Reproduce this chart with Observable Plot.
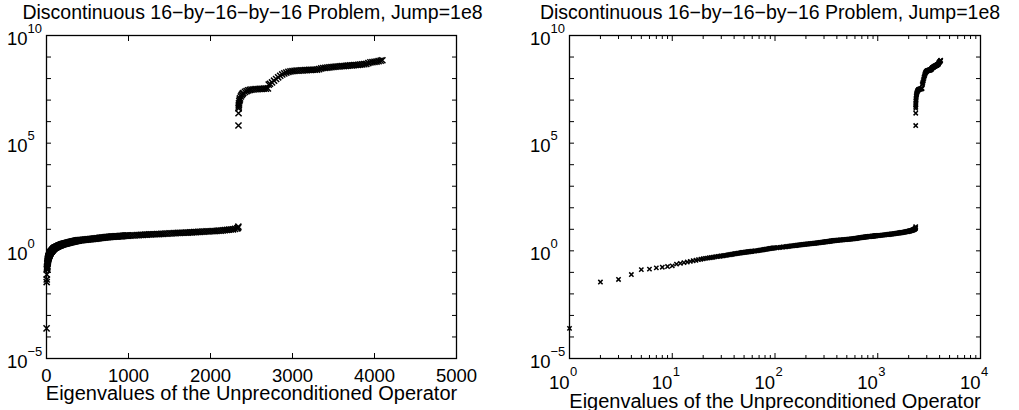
<!DOCTYPE html>
<html><head><meta charset="utf-8">
<script src="https://cdn.jsdelivr.net/npm/d3@7"></script>
<script src="https://cdn.jsdelivr.net/npm/@observablehq/plot@0.6"></script>
<style>
html,body{margin:0;padding:0;background:#fff;}
#wrap{position:relative;width:1019px;height:410px;overflow:hidden;background:#fff;}
#wrap svg{position:absolute;top:0;}
</style></head><body><div id="wrap"></div>
<script>
const titleText = "Discontinuous 16\u2212by\u221216\u2212by\u221216 Problem, Jump=1e8";
const xLabelText = "Eigenvalues of the Unpreconditioned Operator";

// sorted eigenvalues: [index, log10(eigenvalue)]
// low part (unit-coefficient region)
const lowPoints = [
[1,-3.6],[2,-1.45],[3,-1.33],[4,-1.1],[5,-0.87],[6,-0.85],[7,-0.79],[8,-0.76],[9,-0.73],[10,-0.7],
[11,-0.62],[12,-0.58],[13,-0.55],[14,-0.52],[15,-0.49],[16,-0.46],[17,-0.44],[18,-0.41],[19,-0.39],[20,-0.37],
[21,-0.35],[22,-0.34],[23,-0.32],[24,-0.31],[25,-0.3],[26,-0.28],[27,-0.27],[28,-0.26],[29,-0.25],[30,-0.24],
[31,-0.23],[32,-0.22],[33,-0.21],[34,-0.2],[35,-0.19],[36,-0.18],[37,-0.17],[38,-0.16],[39,-0.15],[40,-0.14],
[41,-0.135],[42,-0.13],[43,-0.12],[44,-0.11],[45,-0.105],[46,-0.1],[47,-0.09],[48,-0.08],[49,-0.075],[50,-0.07],
[51,-0.065],[52,-0.06],[53,-0.055],[54,-0.05],[55,-0.045],[56,-0.04],[57,-0.035],[58,-0.03],[59,-0.025],[60,-0.02],
[62,-0.01],[64,-0.005],[66,0],[68,0.01],[70,0.02],[72,0.03],[74,0.04],[76,0.05],[78,0.06],[80,0.07],
[82,0.075],[84,0.08],[86,0.09],[88,0.1],[90,0.11],[92,0.115],[94,0.12],[96,0.13],[98,0.135],[100,0.14],
[104,0.145],[108,0.15],[112,0.16],[116,0.17],[120,0.18],[124,0.185],[128,0.19],[132,0.2],[136,0.21],[140,0.22],
[144,0.225],[148,0.23],[152,0.24],[156,0.245],[160,0.25],[164,0.26],[168,0.265],[172,0.27],[176,0.275],[180,0.28],
[184,0.29],[188,0.295],[192,0.3],[196,0.305],[200,0.31],
[205,0.315],[210,0.32],[215,0.325],[220,0.33],[225,0.335],[230,0.34],[235,0.345],[240,0.35],[245,0.355],[250,0.36],
[255,0.365],[260,0.37],[265,0.375],[270,0.38],[275,0.385],[280,0.39],[285,0.395],[290,0.4],[295,0.405],[300,0.41],
[305,0.415],[310,0.42],[315,0.423],[320,0.426],[325,0.43],[330,0.435],[335,0.44],[340,0.445],[345,0.45],[350,0.455],
[355,0.46],[360,0.463],[365,0.466],[370,0.47],[375,0.474],[380,0.478],[385,0.482],[390,0.485],[395,0.488],[400,0.49],
[410,0.494],[420,0.498],[430,0.502],[440,0.506],[450,0.51],[460,0.514],[470,0.518],[480,0.522],[490,0.526],[500,0.53],
[510,0.534],[520,0.538],[530,0.542],[540,0.546],[550,0.55],[560,0.554],[570,0.558],[580,0.562],[590,0.566],[600,0.57],
[610,0.575],[620,0.58],[630,0.585],[640,0.59],[650,0.6],[660,0.604],[670,0.608],[680,0.612],[690,0.616],[700,0.62],
[710,0.624],[720,0.628],[730,0.632],[740,0.636],[750,0.64],[760,0.644],[770,0.648],[780,0.652],[790,0.656],[800,0.66],
[810,0.662],[820,0.664],[830,0.666],[840,0.668],[850,0.67],[860,0.673],[870,0.676],[880,0.678],[890,0.68],[900,0.682],
[910,0.685],[920,0.688],[930,0.692],[940,0.695],[950,0.7],[960,0.702],[970,0.704],[980,0.706],[990,0.708],[1000,0.71],
[1025,0.71],[1050,0.72],[1075,0.72],[1100,0.73],[1125,0.73],[1150,0.74],[1175,0.74],[1200,0.75],[1225,0.75],[1250,0.76],
[1275,0.76],[1300,0.77],[1325,0.77],[1350,0.78],[1375,0.78],[1400,0.79],[1425,0.79],[1450,0.8],[1475,0.8],[1500,0.81],
[1525,0.81],[1550,0.82],[1575,0.82],[1600,0.83],[1625,0.83],[1650,0.84],[1675,0.84],[1700,0.85],[1725,0.85],[1750,0.86],
[1775,0.86],[1800,0.87],[1825,0.87],[1850,0.88],[1875,0.88],[1900,0.89],[1925,0.89],[1950,0.9],[1975,0.9],[2000,0.91],
[2025,0.92],[2050,0.92],[2075,0.93],[2100,0.94],[2125,0.94],[2150,0.95],[2175,0.96],[2200,0.97],[2225,0.98],[2250,0.99],
[2275,1.0],[2300,1.02],[2325,1.04],[2335,1.07],[2340,1.12]
];
// high part (jump-coefficient region)
const highPoints = [
[2341,5.82],[2342,6.39],[2343,6.62],[2344,6.7],[2346,6.78],[2348,6.85],[2352,6.95],[2356,7.02],[2360,7.08],[2370,7.17],
[2380,7.24],[2390,7.29],[2400,7.33],[2420,7.38],[2440,7.42],[2460,7.45],[2480,7.47],[2500,7.49],[2525,7.5],[2550,7.51],
[2575,7.51],[2600,7.52],[2625,7.52],[2650,7.53],[2675,7.53],[2700,7.54],[2710,7.72],[2725,7.76],[2750,7.82],[2775,7.9],
[2800,7.98],[2825,8.06],[2850,8.13],[2875,8.19],[2900,8.24],[2925,8.28],[2950,8.31],[2975,8.33],[3000,8.35],[3025,8.36],
[3050,8.37],[3075,8.37],[3100,8.38],[3125,8.38],[3150,8.39],[3175,8.39],[3200,8.4],[3225,8.4],[3250,8.41],[3275,8.41],
[3300,8.42],[3325,8.44],[3350,8.47],[3375,8.49],[3400,8.5],[3425,8.51],[3450,8.52],[3475,8.53],[3500,8.54],[3525,8.55],
[3550,8.56],[3575,8.57],[3600,8.58],[3625,8.58],[3650,8.59],[3675,8.6],[3700,8.61],[3725,8.61],[3750,8.62],[3775,8.63],
[3800,8.64],[3825,8.65],[3850,8.66],[3875,8.67],[3900,8.68],[3925,8.72],[3950,8.75],[3975,8.76],[4000,8.78],[4025,8.79],
[4050,8.81],[4075,8.83],[4096,8.85]
];

const yTickExponents = [-5,-4,-3,-2,-1,0,1,2,3,4,5,6,7,8,9,10];
const yLabelExponents = [-5,0,5,10];
const xLinearTicks = [0,1000,2000,3000,4000,5000];
const xLogExponents = [0,1,2,3,4];
const xLogMantissas = [2,3,4,5,6,7,8,9];

const eig = lowPoints.concat(highPoints).map(([i, lg]) => ({i, v: 10**lg}));

const FONT = "'Liberation Sans', Arial, Helvetica, sans-serif";
const sup = e => String(e).replace("-", "\u2212");
const yDomain = [1e-5, 1e10];
const yTicks = yTickExponents.map(e => 10**e);
const yLabels = yLabelExponents.map(e => 10**e);

function commonMarks(r, sw, xMajor, xMinor, xlabDy, titleDx) {
  const m = [
    Plot.axisY({ticks: yTicks, anchor:"left", tickSize:5, dx:5, tickFormat:()=>"", label:null, strokeWidth:1}),
    Plot.axisY({ticks: yTicks, anchor:"right", tickSize:5, dx:-5, tickFormat:()=>"", label:null, strokeWidth:1}),
    Plot.axisX({ticks: xMajor, anchor:"bottom", tickSize:5, dy:-5, tickFormat:()=>"", label:null, strokeWidth:1}),
    Plot.axisX({ticks: xMajor, anchor:"top", tickSize:5, dy:5, tickFormat:()=>"", label:null, strokeWidth:1}),
  ];
  if (xMinor) {
    m.push(Plot.axisX({ticks: xMinor, anchor:"bottom", tickSize:3, dy:-3, tickFormat:()=>"", label:null, strokeWidth:1}));
    m.push(Plot.axisX({ticks: xMinor, anchor:"top", tickSize:3, dy:3, tickFormat:()=>"", label:null, strokeWidth:1}));
  }
  m.push(Plot.frame({stroke:"black", strokeWidth:1.3}));
  m.push(Plot.dot(eig, {x:"i", y:"v", symbol:"times", r, stroke:"black", strokeWidth:sw}));
  m.push(Plot.text(yLabels, {y: d=>d, frameAnchor:"left", text: ()=>"10", textAnchor:"end", lineAnchor:"bottom", dx:-19, dy:9, fontSize:18.5, fill:"black"}));
  m.push(Plot.text(yLabels, {y: d=>d, frameAnchor:"left", text: d=>sup(Math.round(Math.log10(d))), textAnchor:"start", lineAnchor:"bottom", dx:-19, dy:-3, fontSize:13, fill:"black"}));
  m.push(Plot.text([titleText], {frameAnchor:"top", text:d=>d, lineAnchor:"bottom", dx:titleDx, dy:-16.5, fontSize:19.5, fill:"black"}));
  m.push(Plot.text([xLabelText], {frameAnchor:"bottom", text:d=>d, lineAnchor:"bottom", dy:xlabDy, fontSize:20, fill:"black"}));
  return m;
}

const wrap = document.getElementById("wrap");

// left panel: linear index axis
const leftMarks = commonMarks(2.9, 1.5, xLinearTicks, null, 41.5, 1);
leftMarks.push(Plot.text(xLinearTicks, {x:d=>d, frameAnchor:"bottom", text:d=>String(d), lineAnchor:"bottom", dy:23.5, fontSize:18.5, fill:"black"}));
const left = Plot.plot({
  width: 509, height: 410,
  marginLeft: 46, marginRight: 53, marginTop: 35, marginBottom: 52,
  x: {type:"linear", domain:[0,5000]},
  y: {type:"log", domain: yDomain},
  style: {fontFamily: FONT, color:"black", background:"transparent", overflow:"visible"},
  marks: leftMarks
});
left.style.left = "0px";
wrap.appendChild(left);

// right panel: log index axis
const xLogMajor = xLogExponents.map(e => 10**e);
const xLogMinor = xLogExponents.slice(0,-1).flatMap(e => xLogMantissas.map(m => m*10**e));
const rightMarks = commonMarks(2.1, 1.5, xLogMajor, xLogMinor, 49, -5);
rightMarks.push(Plot.text(xLogMajor, {x:d=>d, frameAnchor:"bottom", text:()=>"10", textAnchor:"end", lineAnchor:"bottom", dy:30.3, fontSize:18.5, fill:"black"}));
rightMarks.push(Plot.text(xLogMajor, {x:d=>d, frameAnchor:"bottom", text:d=>sup(Math.round(Math.log10(d))), textAnchor:"start", lineAnchor:"bottom", dx:0.5, dy:17, fontSize:13, fill:"black"}));
const right = Plot.plot({
  width: 510, height: 410,
  marginLeft: 60, marginRight: 39, marginTop: 35, marginBottom: 52,
  x: {type:"log", domain:[1,1e4]},
  y: {type:"log", domain: yDomain},
  style: {fontFamily: FONT, color:"black", background:"transparent", overflow:"visible"},
  marks: rightMarks
});
right.style.left = "509px";
wrap.appendChild(right);
</script>
</body></html>
